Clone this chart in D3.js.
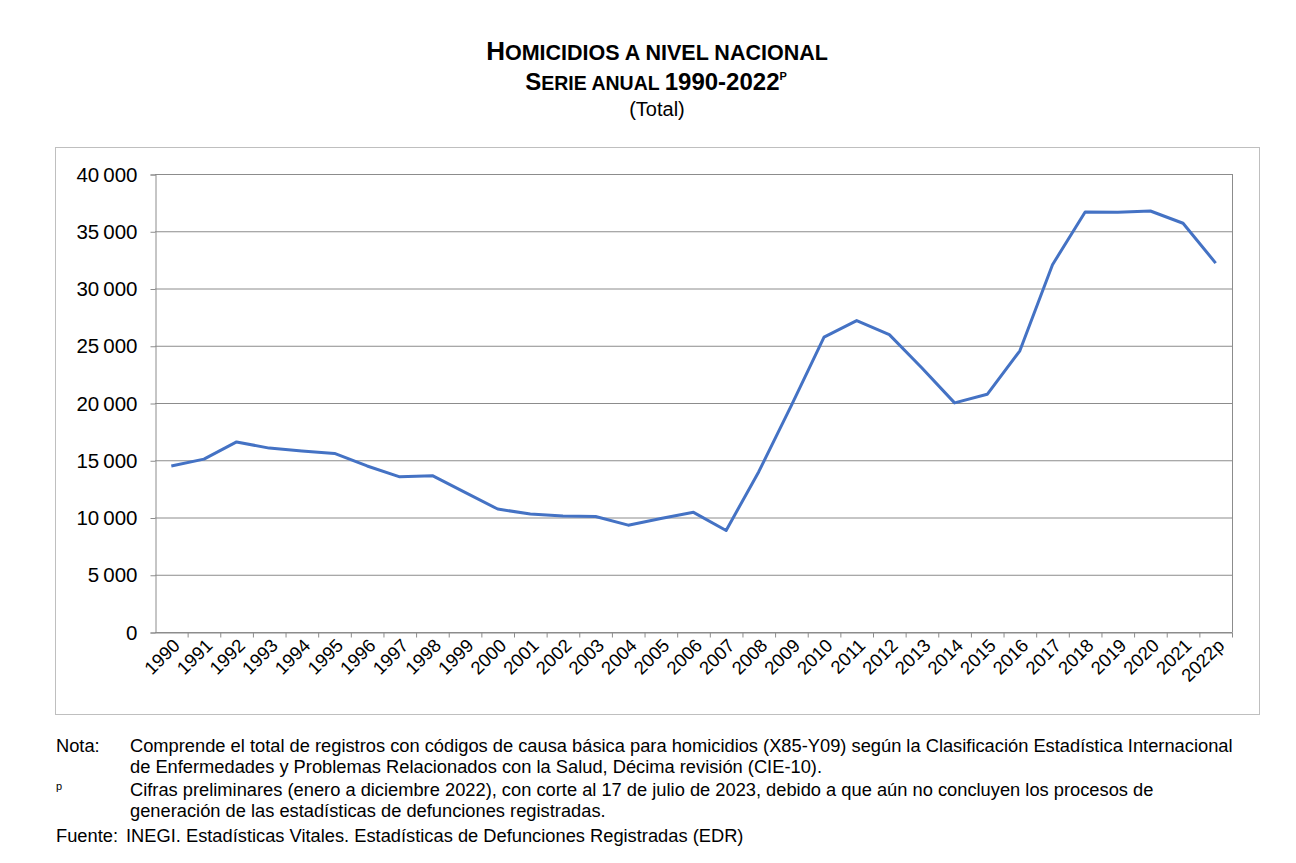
<!DOCTYPE html>
<html>
<head>
<meta charset="utf-8">
<script src="https://cdnjs.cloudflare.com/ajax/libs/d3/7.8.4/d3.min.js"></script>
<style>
body { margin: 0; background: #fff; font-family: "Liberation Sans", Arial, sans-serif; }
.note { position: absolute; left: 56px; font-size: 18.3px; color: #000; line-height: 21px; }
.note .lbl { position: absolute; left: 0; }
.note .txt { position: absolute; left: 74px; width: 1110px; }
</style>
</head>
<body>
<svg id="chart" width="1296" height="863" style="position:absolute;left:0;top:0"></svg>
<div class="note" style="top:735px"><span class="lbl">Nota:</span><span class="txt">Comprende el total de registros con códigos de causa básica para homicidios (X85-Y09) según la Clasificación Estadística Internacional de Enfermedades y Problemas Relacionados con la Salud, Décima revisión (CIE-10).</span></div>
<div class="note" style="top:779px"><span class="lbl" style="font-size:11px;top:-3px">p</span><span class="txt">Cifras preliminares (enero a diciembre 2022), con corte al 17 de julio de 2023, debido a que aún no concluyen los procesos de generación de las estadísticas de defunciones registradas.</span></div>
<div class="note" style="top:825px"><span class="lbl">Fuente:</span><span class="txt" style="left:70px">INEGI. Estadísticas Vitales. Estadísticas de Defunciones Registradas (EDR)</span></div>
<script>
const years = ["1990","1991","1992","1993","1994","1995","1996","1997","1998","1999","2000","2001","2002","2003","2004","2005","2006","2007","2008","2009","2010","2011","2012","2013","2014","2015","2016","2017","2018","2019","2020","2021","2022p"];
const homicidios = [14500,15100,16600,16060,15800,15600,14500,13550,13650,12200,10740,10300,10130,10090,9330,9920,10450,8870,14000,19800,25750,27200,25970,23060,20010,20760,24560,32080,36680,36660,36770,35700,32220];
const yTicks = [0,5000,10000,15000,20000,25000,30000,35000,40000];

const svg = d3.select("#chart");
const fmt = v => v === 0 ? "0" : d3.format(",")(v).replace(/,/g, "\u202F");

// title
const t = svg.append("text").attr("text-anchor", "middle").style("font-weight", "bold");
t.append("tspan").attr("x", 657).attr("y", 60).style("font-size", "26px").text("H");
t.append("tspan").style("font-size", "21.5px").text("OMICIDIOS A NIVEL NACIONAL");
const t2 = svg.append("text").attr("text-anchor", "middle").style("font-weight", "bold");
t2.append("tspan").attr("x", 656).attr("y", 90).style("font-size", "24px").text("S");
t2.append("tspan").style("font-size", "19.5px").text("ERIE ANUAL ");
t2.append("tspan").style("font-size", "24px").text("1990-2022");
t2.append("tspan").attr("dy", -10).style("font-size", "11px").text("P");
svg.append("text").attr("x", 657).attr("y", 116).attr("text-anchor", "middle").style("font-size", "20px").text("(Total)");

// frame
svg.append("rect").attr("x", 55.5).attr("y", 147.5).attr("width", 1204).attr("height", 567)
  .attr("fill", "none").attr("stroke", "#bfbfbf");

const m = {left: 155, right: 1232, top: 174, bottom: 632};
const x = d3.scaleBand().domain(years).range([m.left, m.right]);
const y = d3.scaleLinear().domain([0, 40000]).range([m.bottom, m.top]);

svg.append("g").selectAll("line").data(yTicks).join("line")
  .attr("x1", m.left).attr("x2", m.right)
  .attr("y1", d => y(d) + 0.5).attr("y2", d => y(d) + 0.5)
  .attr("stroke", "#8c8c8c").attr("stroke-width", 1);
svg.append("line").attr("x1", m.right + 0.5).attr("x2", m.right + 0.5).attr("y1", m.top).attr("y2", m.bottom)
  .attr("stroke", "#8c8c8c");

const ya = svg.append("g").attr("transform", `translate(${m.left + 0.5},0.5)`)
  .call(d3.axisLeft(y).tickValues(yTicks).tickFormat(fmt).tickSize(5).tickPadding(13));
ya.select(".domain").attr("stroke", "#8c8c8c");
ya.selectAll(".tick line").attr("stroke", "#8c8c8c");
ya.selectAll("text").style("font-size", "20.5px").style("font-family", "Liberation Sans, Arial").attr("fill", "#000");

const xa = svg.append("g").attr("transform", `translate(0.5,${m.bottom + 0.5})`)
  .call(d3.axisBottom(x).tickSize(5).tickSizeOuter(0));
xa.select(".domain").attr("stroke", "#8c8c8c");
xa.selectAll(".tick line").attr("stroke", "#8c8c8c").attr("transform", `translate(${x.bandwidth() / 2},0)`);
xa.selectAll("text").style("font-size", "18.5px").style("font-family", "Liberation Sans, Arial").attr("fill", "#000")
  .attr("text-anchor", "end").attr("dy", "0.35em")
  .attr("transform", "translate(-1,4) rotate(-45)");

svg.append("path").datum(homicidios)
  .attr("fill", "none").attr("stroke", "#4472c4").attr("stroke-width", 3).attr("stroke-linejoin", "round")
  .attr("d", d3.line().x((d, i) => x(years[i]) + x.bandwidth() / 2).y(d => y(d)));
</script>
</body>
</html>
